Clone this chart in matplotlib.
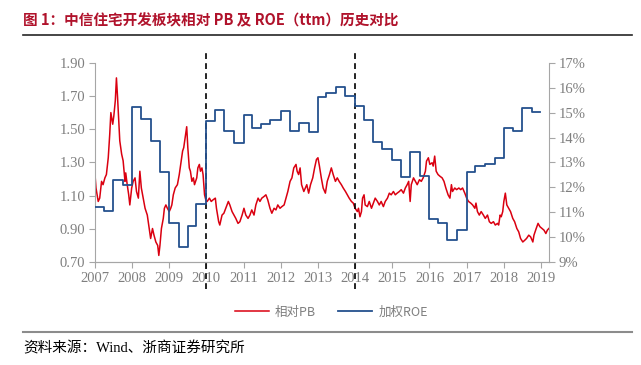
import numpy as np
import matplotlib.pyplot as plt
from matplotlib.ticker import FuncFormatter
import matplotlib.transforms as mtransforms

plt.rcParams['font.family'] = ['Noto Sans CJK SC', 'DejaVu Sans']

# relative PB (decimal year, value)
pb_dates = [2007.00, 2007.03, 2007.09, 2007.13, 2007.18, 2007.22, 2007.27, 2007.31, 2007.36, 2007.40,
            2007.43, 2007.48, 2007.51, 2007.55, 2007.58, 2007.61, 2007.64, 2007.67, 2007.72, 2007.76,
            2007.81, 2007.83, 2007.87, 2007.91, 2007.94, 2007.99, 2008.03, 2008.08, 2008.12, 2008.17,
            2008.21, 2008.25, 2008.30, 2008.35, 2008.41, 2008.46, 2008.50, 2008.55, 2008.59, 2008.64,
            2008.69, 2008.72, 2008.75, 2008.79, 2008.84, 2008.87, 2008.91, 2008.95, 2009.00, 2009.04,
            2009.07, 2009.11, 2009.16, 2009.22, 2009.27, 2009.32, 2009.36, 2009.39, 2009.43, 2009.47,
            2009.50, 2009.54, 2009.57, 2009.61, 2009.65, 2009.68, 2009.74, 2009.77, 2009.81, 2009.84,
            2009.88, 2009.91, 2009.95, 2009.99, 2010.02, 2010.08, 2010.13, 2010.18, 2010.24, 2010.27,
            2010.33, 2010.36, 2010.42, 2010.47, 2010.52, 2010.59, 2010.63, 2010.69, 2010.74, 2010.79,
            2010.85, 2010.90, 2010.96, 2011.01, 2011.06, 2011.12, 2011.17, 2011.22, 2011.28, 2011.33,
            2011.39, 2011.44, 2011.49, 2011.55, 2011.60, 2011.65, 2011.71, 2011.76, 2011.82, 2011.87,
            2011.92, 2011.98, 2012.03, 2012.09, 2012.14, 2012.19, 2012.25, 2012.30, 2012.35, 2012.41,
            2012.44, 2012.48, 2012.52, 2012.56, 2012.62, 2012.70, 2012.75, 2012.80, 2012.86, 2012.91,
            2012.96, 2013.00, 2013.04, 2013.09, 2013.14, 2013.20, 2013.25, 2013.31, 2013.36, 2013.41,
            2013.47, 2013.52, 2013.57, 2013.63, 2013.68, 2013.74, 2013.79, 2013.84, 2013.90, 2013.95,
            2014.00, 2014.06, 2014.09, 2014.13, 2014.17, 2014.20, 2014.24, 2014.27, 2014.33, 2014.38,
            2014.44, 2014.49, 2014.54, 2014.60, 2014.65, 2014.70, 2014.76, 2014.81, 2014.87, 2014.92,
            2014.97, 2015.03, 2015.08, 2015.13, 2015.19, 2015.24, 2015.30, 2015.35, 2015.40, 2015.44,
            2015.48, 2015.51, 2015.57, 2015.62, 2015.67, 2015.73, 2015.78, 2015.83, 2015.89, 2015.92,
            2015.97, 2016.01, 2016.07, 2016.10, 2016.14, 2016.18, 2016.23, 2016.28, 2016.34, 2016.39,
            2016.44, 2016.50, 2016.55, 2016.59, 2016.62, 2016.68, 2016.73, 2016.79, 2016.84, 2016.89,
            2016.95, 2017.00, 2017.05, 2017.11, 2017.16, 2017.22, 2017.25, 2017.29, 2017.34, 2017.39,
            2017.45, 2017.50, 2017.56, 2017.61, 2017.66, 2017.72, 2017.77, 2017.83, 2017.86, 2017.90,
            2017.93, 2017.97, 2018.00, 2018.04, 2018.08, 2018.13, 2018.18, 2018.24, 2018.29, 2018.35,
            2018.40, 2018.45, 2018.51, 2018.56, 2018.61, 2018.67, 2018.72, 2018.78, 2018.81, 2018.87,
            2018.92, 2018.97, 2019.03, 2019.08, 2019.13, 2019.17, 2019.21]
pb_values = [1.237, 1.146, 1.065, 1.085, 1.186, 1.166, 1.207, 1.227, 1.328, 1.470,
             1.600, 1.530, 1.580, 1.673, 1.809, 1.693, 1.560, 1.430, 1.350, 1.310,
             1.186, 1.237, 1.166, 1.105, 1.044, 1.146, 1.186, 1.207, 1.125, 1.085,
             1.247, 1.146, 1.085, 1.024, 0.983, 0.902, 0.842, 0.902, 0.862, 0.821,
             0.800, 0.740, 0.800, 0.902, 0.963, 1.024, 1.044, 1.024, 1.004, 1.024,
             1.044, 1.105, 1.146, 1.166, 1.227, 1.308, 1.369, 1.389, 1.450, 1.515,
             1.389, 1.267, 1.247, 1.186, 1.207, 1.166, 1.207, 1.267, 1.288, 1.247,
             1.267, 1.227, 1.105, 1.069, 1.065, 1.085, 1.065, 1.075, 1.085, 1.024,
             0.943, 0.923, 0.983, 0.994, 1.024, 1.065, 1.044, 1.004, 0.983, 0.963,
             0.933, 0.943, 0.983, 1.024, 0.983, 0.963, 0.983, 1.014, 0.983, 1.044,
             1.085, 1.065, 1.085, 1.095, 1.105, 1.075, 1.024, 0.994, 1.024, 1.014,
             1.044, 1.024, 1.034, 1.044, 1.085, 1.125, 1.186, 1.207, 1.267, 1.288,
             1.247, 1.227, 1.267, 1.166, 1.125, 1.166, 1.115, 1.166, 1.207, 1.267,
             1.318, 1.328, 1.278, 1.207, 1.146, 1.115, 1.186, 1.227, 1.267, 1.227,
             1.186, 1.207, 1.186, 1.166, 1.146, 1.125, 1.105, 1.085, 1.065, 1.055,
             1.024, 1.004, 1.024, 0.973, 1.004, 1.085, 1.105, 1.044, 1.034, 1.065,
             1.024, 1.055, 1.085, 1.065, 1.044, 1.065, 1.034, 1.065, 1.085, 1.115,
             1.105, 1.125, 1.105, 1.115, 1.125, 1.136, 1.115, 1.146, 1.166, 1.186,
             1.065, 1.166, 1.207, 1.186, 1.166, 1.196, 1.186, 1.207, 1.247, 1.308,
             1.328, 1.288, 1.298, 1.278, 1.338, 1.247, 1.227, 1.217, 1.207, 1.186,
             1.146, 1.105, 1.085, 1.166, 1.125, 1.146, 1.136, 1.146, 1.136, 1.146,
             1.115, 1.085, 1.065, 1.055, 1.044, 1.024, 1.055, 1.004, 0.983, 1.004,
             0.983, 0.963, 0.983, 0.943, 0.933, 0.943, 0.923, 0.933, 0.923, 0.983,
             0.973, 1.004, 1.065, 1.115, 1.044, 1.024, 1.004, 0.963, 0.943, 0.902,
             0.882, 0.842, 0.821, 0.831, 0.842, 0.862, 0.852, 0.821, 0.862, 0.902,
             0.933, 0.913, 0.902, 0.892, 0.872, 0.892, 0.902]

# weighted ROE (%) per quarter, step series
roe_dates = [2007.00, 2007.25, 2007.50, 2007.75, 2008.00, 2008.25, 2008.50, 2008.75,
             2009.00, 2009.25, 2009.50, 2009.72, 2010.00, 2010.22, 2010.48, 2010.75,
             2011.00, 2011.23, 2011.47, 2011.72, 2012.00, 2012.25, 2012.50, 2012.76,
             2013.00, 2013.23, 2013.49, 2013.73, 2014.00, 2014.24, 2014.49, 2014.73,
             2015.00, 2015.23, 2015.48, 2015.75, 2016.00, 2016.22, 2016.48, 2016.74,
             2017.00, 2017.23, 2017.49, 2017.76, 2018.00, 2018.24, 2018.49, 2018.75, 2018.97]
roe_values = [11.20, 11.05, 12.30, 12.10, 15.23, 14.75, 13.88, 12.60,
              10.55, 9.60, 10.45, 11.35, 14.65, 15.12, 14.28, 13.78,
              14.90, 14.40, 14.55, 14.70, 15.07, 14.28, 14.60, 14.24,
              15.63, 15.80, 16.04, 15.65, 15.27, 14.70, 13.83, 13.52,
              13.10, 12.43, 13.42, 12.44, 10.73, 10.57, 9.90, 10.28,
              12.63, 12.84, 12.93, 13.17, 14.39, 14.25, 15.17, 15.03, 15.03]

years = list(range(2007, 2020))
pb_ticks = [0.70, 0.90, 1.10, 1.30, 1.50, 1.70, 1.90]
roe_ticks = [9, 10, 11, 12, 13, 14, 15, 16, 17]
marker_years = [2010, 2014]

red = '#DA0010'
blue = '#24508E'
serif = 'Liberation Serif'

fig = plt.figure(figsize=(6.41, 3.65), dpi=100)
ax = fig.add_axes([0.148, 0.282, 0.7085, 0.546])
ax2 = ax.twinx()

ax.plot(pb_dates, pb_values, color=red, lw=1.1, label='相对PB')
ax2.step(roe_dates, roe_values, where='post', color=blue, lw=1.3, label='加权ROE')

ax.set_xlim(2007, 2019.215)
ax.set_ylim(0.70, 1.90)
ax2.set_ylim(9, 17)
ax.set_xticks(years)
ax.set_xticklabels([str(y) for y in years])
ax.set_yticks(pb_ticks)
ax.yaxis.set_major_formatter(FuncFormatter(lambda v, p: f'{v:.2f}'))
ax2.set_yticks(roe_ticks)
ax2.yaxis.set_major_formatter(FuncFormatter(lambda v, p: f'{v:.0f}%'))

for a in (ax, ax2):
    a.spines['top'].set_visible(False)
    for s in ['left', 'right', 'bottom']:
        a.spines[s].set_color('#A6A6A6')
    a.tick_params(length=4, width=0.8, color='#A6A6A6', pad=3)
    for lab in a.get_xticklabels() + a.get_yticklabels():
        lab.set_fontfamily(serif)
        lab.set_fontsize(10.5)
        lab.set_color('#7F7F7F')
ax2.spines['left'].set_visible(False)
ax.spines['right'].set_visible(False)

# dashed markers crossing the axes
trans = mtransforms.blended_transform_factory(ax.transData, ax.transAxes)
for y in marker_years:
    ax.plot([y, y], [-0.135, 1.05], transform=trans, color='black', lw=1.2,
            ls=(0, (3.5, 2.5)), clip_on=False, zorder=5)

h1, l1 = ax.get_legend_handles_labels()
h2, l2 = ax2.get_legend_handles_labels()
fig.legend(h1 + h2, l1 + l2, loc='center', bbox_to_anchor=(0.517, 0.145), ncol=2,
           frameon=False, fontsize=9, handlelength=2.7, handletextpad=0.5,
           columnspacing=1.8, labelcolor='#7F7F7F')

fig.text(0.036, 0.945, '图 1：中信住宅开发板块相对 PB 及 ROE（ttm）历史对比',
         color='#B0122B', fontsize=10.5, fontweight='bold', va='center')
fig.add_artist(plt.Line2D([0.036, 0.986], [0.905, 0.905], color='#262626', lw=1.2))
fig.add_artist(plt.Line2D([0.036, 0.986], [0.09, 0.09], color='#8C8C8C', lw=1.5))
fig.text(0.036, 0.047, '资料来源：Wind、浙商证券研究所', fontsize=10.5, color='black', va='center',
         family=[serif, 'Noto Sans CJK SC'])

fig.savefig('out.png', dpi=100)
